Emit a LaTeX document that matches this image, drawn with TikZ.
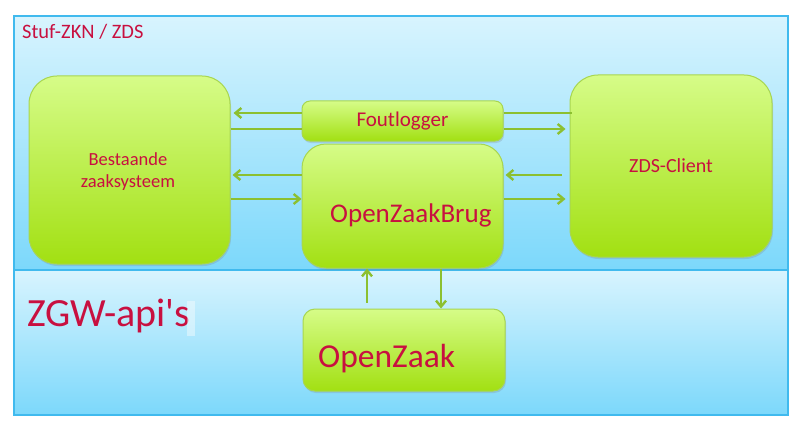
\documentclass[tikz,border=0pt]{standalone}
\usepackage{fontspec}
\setmainfont{Carlito}
\usetikzlibrary{arrows.meta,shadows,calc}
\definecolor{txtred}{RGB}{200,16,64}
\definecolor{paneltop}{RGB}{216,244,254}
\definecolor{panelbot}{RGB}{124,216,251}
\definecolor{panelborder}{RGB}{64,186,238}
\definecolor{boxtop}{RGB}{214,252,136}
\definecolor{boxbot}{RGB}{162,224,18}
\definecolor{boxborder}{RGB}{168,214,80}
\definecolor{arrowgreen}{RGB}{140,192,48}
\tikzset{
  panel/.style={draw=panelborder, line width=1.6pt, top color=paneltop, bottom color=panelbot, inner sep=0pt},
  gbox/.style={draw=boxborder, line width=1pt, top color=boxtop, bottom color=boxbot, inner sep=0pt,
    drop shadow={opacity=0.25, shadow xshift=1pt, shadow yshift=-2pt}, text=txtred, align=center},
  lbl/.style={text=txtred, inner sep=0pt},
  conn/.style={draw=arrowgreen, line width=2.4pt},
  arr/.style={conn, -{Straight Barb[length=6pt,width=10pt,line width=2.4pt]}},
}
\begin{document}
\begin{tikzpicture}[x=1pt,y=-1pt]
\useasboundingbox (0,0) rectangle (800,425);
% panels
\node[panel, minimum width=774pt, minimum height=254pt] (top) at (401,143) {};
\node[panel, minimum width=774pt, minimum height=145pt] (bottom) at (401,342.5) {};
\node[lbl, anchor=base west, font=\fontsize{20.5}{24}\selectfont] (stuf) at (22,39) {Stuf-ZKN / ZDS};
\node[lbl, anchor=base west, font=\fontsize{40}{44}\selectfont] (zgw) at (27,326) {ZGW-api\textquotesingle s};
\node[fill=white, opacity=0.4, minimum width=8pt, minimum height=35pt, inner sep=0pt] (glitch) at (191,318.5) {};
% boxes
\node[gbox, rounded corners=28pt, minimum width=201pt, minimum height=188pt] (bz) at (129.5,170) {};
\node[lbl, align=center, font=\fontsize{18.5}{22}\selectfont] (bzt) at (128,172) {Bestaande\\zaaksysteem};
\node[gbox, rounded corners=8pt, minimum width=201pt, minimum height=40pt, font=\fontsize{21}{22}\selectfont] (fl) at (402.5,121) {Foutlogger};
\node[gbox, rounded corners=24pt, minimum width=201pt, minimum height=124pt] (ozb) at (402.5,206) {};
\node[gbox, rounded corners=28pt, minimum width=202pt, minimum height=182pt, font=\fontsize{20}{22}\selectfont] (zds) at (671,166) {ZDS-Client};
\node[gbox, rounded corners=12pt, minimum width=202pt, minimum height=82pt] (oz) at (404,350) {};
\node[lbl, anchor=base west, font=\fontsize{27}{30}\selectfont] (ozbt) at (330,222) {OpenZaakBrug};
\node[lbl, anchor=base west, font=\fontsize{33.5}{36}\selectfont] (ozt) at (318,367) {OpenZaak};
% connectors
\coordinate (bzA) at ([xshift=3pt]bz.east |- 0,113);
\coordinate (zdsA) at ([xshift=2pt]zds.west |- 0,113);
\coordinate (zdsB) at ([xshift=-4pt]zds.west |- 0,129);
\coordinate (bzC) at ([xshift=2pt]bz.east |- 0,175);
\coordinate (zdsC) at ([xshift=-8pt]zds.west |- 0,175);
\coordinate (zdsD) at ([xshift=-4pt]zds.west |- 0,199);
\draw[arr] (fl.west |- 0,113) -- (bzA);
\draw[conn] (bz.east |- 0,129) -- (fl.west |- 0,129);
\draw[conn] (fl.east |- 0,113) -- (zdsA);
\draw[arr] (fl.east |- 0,129) -- (zdsB);
\draw[arr] (ozb.west |- 0,175) -- (bzC);
\draw[arr] (bz.east |- 0,199) -- (ozb.west |- 0,199);
\draw[arr] (zdsC) -- ([xshift=2pt]ozb.east |- 0,175);
\draw[arr] (ozb.east |- 0,199) -- (zdsD);
\draw[arr] ([yshift=6pt]oz.north -| 367,0) -- (ozb.south -| 367,0);
\draw[arr] (ozb.south -| 441,0) -- (oz.north -| 441,0);
\end{tikzpicture}
\end{document}
